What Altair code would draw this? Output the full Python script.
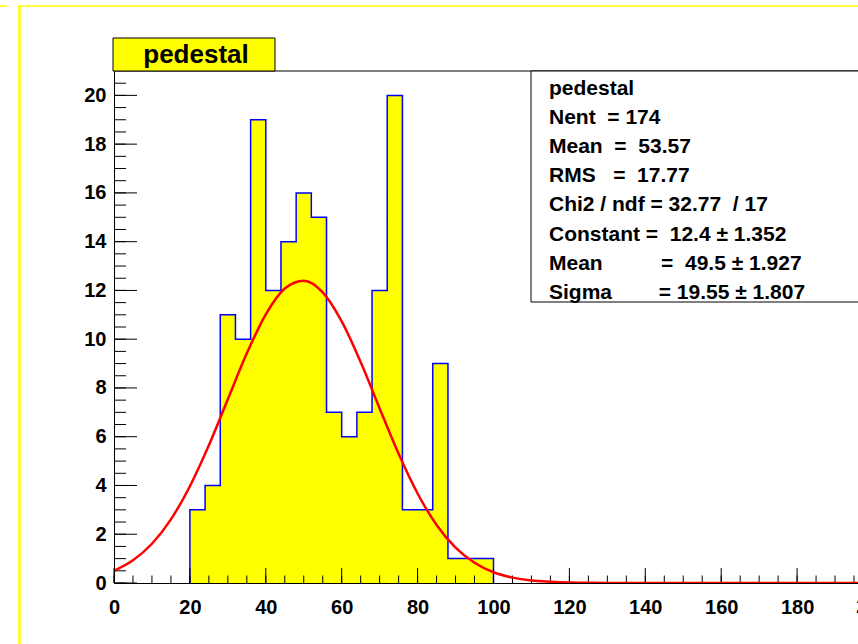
import altair as alt
import pandas as pd

# ---- data ----
bin_left = [20, 24, 28, 32, 36, 40, 44, 48, 52, 56, 60, 64, 68, 72, 76, 80, 84, 88, 92, 96]
counts = [3, 4, 11, 10, 19, 12, 14, 16, 15, 7, 6, 7, 12, 20, 3, 3, 9, 1, 1, 1]
bin_width = 4

fit_x = [0, 5, 10, 15, 20, 25, 30, 35, 40, 45, 50, 55, 60, 65, 70, 75, 80, 85, 90, 95,
         100, 105, 110, 115, 120, 125, 130, 135, 140, 145, 150, 155, 160, 165, 170, 175,
         180, 185, 190, 195, 200]
fit_y = [0.50, 0.93, 1.61, 2.61, 3.97, 5.65, 7.54, 9.42, 11.02, 12.08, 12.40, 11.92, 10.73,
         9.06, 7.16, 5.30, 3.67, 2.38, 1.45, 0.83, 0.44, 0.22, 0.10, 0.05, 0.02, 0.01,
         0, 0, 0, 0, 0, 0, 0, 0, 0, 0, 0, 0, 0, 0, 0]

x_major = [0, 20, 40, 60, 80, 100, 120, 140, 160, 180]
x_minor = list(range(0, 200, 5))
y_major = [0, 2, 4, 6, 8, 10, 12, 14, 16, 18, 20]
y_minor = [v / 2 for v in range(0, 42)]

title_text = "pedestal"
S = "\u00a0"  # non-breaking space keeps the column spacing
stats_lines = [
    "pedestal",
    "Nent" + S * 2 + "=" + S + "174",
    "Mean" + S * 2 + "=" + S * 2 + "53.57",
    "RMS" + S * 3 + "=" + S * 2 + "17.77",
    "Chi2 / ndf = 32.77" + S * 2 + "/ 17",
    "Constant" + S + "=" + S * 2 + "12.4 \u00b1 1.352",
    "Mean" + S * 10 + "=" + S * 2 + "49.5 \u00b1 1.927",
    "Sigma" + S * 8 + "=" + S + "19.55 \u00b1 1.807",
]

FONT = "Liberation Sans"
W, H = 744, 512
XMAX = 196.05

# ---- tables ----
edge_end = bin_left[-1] + bin_width
fill_df = pd.DataFrame({"x": bin_left + [edge_end], "y": counts + [counts[-1]]})
ox = [bin_left[0]] + bin_left + [edge_end, edge_end]
oy = [0] + counts + [counts[-1], 0]
outline_df = pd.DataFrame({"x": ox, "y": oy, "i": list(range(len(ox)))})
fit_df = pd.DataFrame({"x": fit_x, "y": fit_y})
one = pd.DataFrame({"a": [0]})

xs = alt.Scale(domain=[0, XMAX], nice=False, zero=False)
ys = alt.Scale(domain=[0, 21], nice=False)

x_axis = alt.Axis(values=x_major, ticks=False, tickSize=0, grid=False, domainColor="black",
                  domainWidth=1, labelFont=FONT, labelFontSize=20, labelFontWeight="bold",
                  labelColor="black", labelPadding=14, labelFlush=False, title=None, zindex=1)
y_axis = alt.Axis(values=y_major, ticks=False, tickSize=0, grid=False, domainColor="black",
                  domainWidth=1, labelFont=FONT, labelFontSize=20, labelFontWeight="bold",
                  labelColor="black", labelPadding=8, title=None, zindex=1)

area = alt.Chart(fill_df).mark_area(interpolate="step-after", color="#ffff00").encode(
    x=alt.X("x:Q", scale=xs, axis=x_axis),
    y=alt.Y("y:Q", scale=ys, axis=y_axis),
)
outline = alt.Chart(outline_df).mark_line(interpolate="step-after", color="#0000ff", strokeWidth=1.5).encode(
    x="x:Q", y="y:Q", order="i:Q"
)
fit = alt.Chart(fit_df).mark_line(interpolate="monotone", color="#ff0000", strokeWidth=2.5, clip=True).encode(
    x="x:Q", y="y:Q"
)

xmaj = alt.Chart(pd.DataFrame({"v": x_major})).mark_rule(color="black", strokeWidth=1).encode(
    x="v:Q", y=alt.value(H), y2=alt.value(H - 15))
xmin = alt.Chart(pd.DataFrame({"v": x_minor})).mark_rule(color="black", strokeWidth=1).encode(
    x="v:Q", y=alt.value(H), y2=alt.value(H - 7.5))
ymaj = alt.Chart(pd.DataFrame({"v": y_major})).mark_rule(color="black", strokeWidth=1).encode(
    y="v:Q", x=alt.value(0), x2=alt.value(23))
ymin = alt.Chart(pd.DataFrame({"v": y_minor})).mark_rule(color="black", strokeWidth=1).encode(
    y="v:Q", x=alt.value(0), x2=alt.value(12))

label200 = alt.Chart(pd.DataFrame({"v": [200]})).mark_text(
    font=FONT, fontSize=20, fontWeight="bold", color="black", baseline="top", align="center"
).encode(x="v:Q", y=alt.value(H + 14), text=alt.value("200"))

top_line = alt.Chart(one).mark_rule(color="black", strokeWidth=1).encode(
    x=alt.value(0), x2=alt.value(W), y=alt.value(0))

stats_box = alt.Chart(one).mark_rect(fill="white", stroke="black", strokeWidth=1).encode(
    x=alt.value(417), x2=alt.value(W + 10), y=alt.value(0), y2=alt.value(231))
stats_text = alt.Chart(one).mark_text(
    font=FONT, fontSize=21, fontWeight="bold", color="black", align="left",
    baseline="alphabetic", lineBreak="\n", lineHeight=29.1
).encode(x=alt.value(435), y=alt.value(24), text=alt.value("\n".join(stats_lines)))

title_box = alt.Chart(one).mark_rect(fill="#ffff00", stroke="black", strokeWidth=1).encode(
    x=alt.value(-1), x2=alt.value(161), y=alt.value(-33), y2=alt.value(0))
title_mark = alt.Chart(one).mark_text(
    font=FONT, fontSize=26, fontWeight="bold", color="black", align="center", baseline="alphabetic"
).encode(x=alt.value(82), y=alt.value(-8), text=alt.value(title_text))

# canvas border (yellow)
border_left = alt.Chart(one).mark_rule(color="#ffff00", strokeWidth=2.5).encode(
    x=alt.value(-94.5), y=alt.value(-65), y2=alt.value(H + 61))
border_top = alt.Chart(one).mark_rule(color="#ffff00", strokeWidth=1.5).encode(
    x=alt.value(-96), x2=alt.value(W), y=alt.value(-65))
border_corner = alt.Chart(one).mark_rule(color="#ffff00", strokeWidth=1.5).encode(
    x=alt.value(-114), x2=alt.value(-107), y=alt.value(-65))

chart = alt.layer(
    area, outline, xmin, xmaj, ymin, ymaj, fit, label200, top_line,
    stats_box, stats_text, title_box, title_mark,
    border_left, border_top, border_corner,
).properties(
    width=W, height=H,
    autosize=alt.AutoSizeParams(type="none"),
    padding={"left": 114, "top": 71, "right": 0, "bottom": 61},
    background="white",
).configure_view(stroke=None)

chart.save("out.html", embed_options={"renderer": "svg", "actions": False})
